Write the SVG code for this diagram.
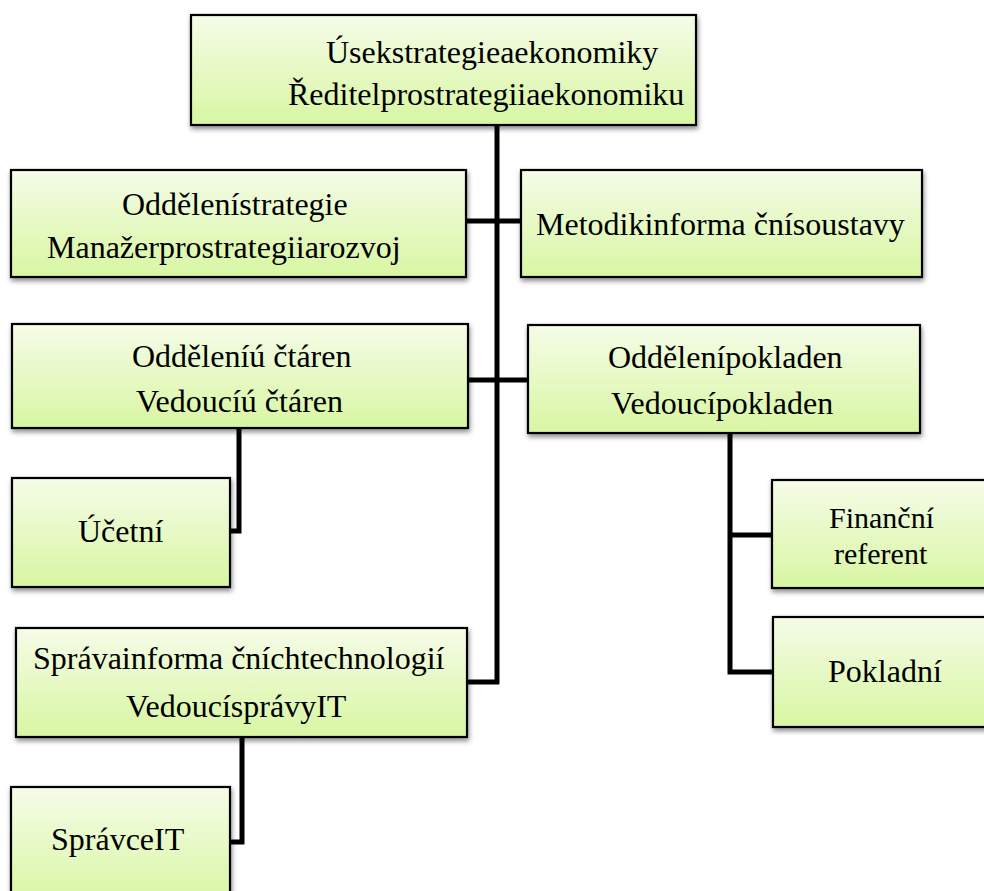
<svg xmlns="http://www.w3.org/2000/svg" width="984" height="891" viewBox="0 0 984 891">
  <defs>
    <linearGradient id="boxFill" x1="0" y1="0" x2="0" y2="1">
      <stop offset="0" stop-color="#f5fce8"/>
      <stop offset="1" stop-color="#d8f6a2"/>
    </linearGradient>
    <filter id="shadow" x="-10%" y="-10%" width="120%" height="130%">
      <feDropShadow dx="1" dy="3" stdDeviation="2.5" flood-color="#000" flood-opacity="0.45"/>
    </filter>
  </defs>
  <style>
    .box { fill: url(#boxFill); stroke: #000; stroke-width: 2.2; filter: url(#shadow); }
    .lbl { font-family: "Liberation Serif", "Times New Roman", serif; font-size: 32px; fill: #000; }
    .tight { font-size: 30px; }
    .link { fill: none; stroke: #000; stroke-width: 5; stroke-linejoin: miter; stroke-linecap: butt; }
  </style>
  <rect width="984" height="891" fill="#fff"/>

  <!-- connectors -->
  <g id="connectors">
    <path class="link" d="M497 125 V684"/>
    <path class="link" d="M466 221 H521"/>
    <path class="link" d="M468 380 H528"/>
    <path class="link" d="M467 682 H499"/>
    <path class="link" d="M239 428 V531 H230"/>
    <path class="link" d="M730 433 V672 H773"/>
    <path class="link" d="M730 535 H772"/>
    <path class="link" d="M242 737 V842 H230"/>
  </g>

  <g id="usek">
    <rect class="box" x="191" y="15" width="505" height="110"/>
    <text class="lbl" x="326" y="63">Úsekstrategieaekonomiky</text>
    <text class="lbl" x="288" y="105">Ředitelprostrategiiaekonomiku</text>
  </g>

  <g id="strategie">
    <rect class="box" x="11" y="170" width="455" height="107"/>
    <text class="lbl" x="122" y="215">Oddělenístrategie</text>
    <text class="lbl" x="47" y="258">Manažerprostrategiiarozvoj</text>
  </g>

  <g id="metodik">
    <rect class="box" x="521" y="170" width="401" height="107"/>
    <text class="lbl" x="536" y="235">Metodikinforma čnísoustavy</text>
  </g>

  <g id="uctarny">
    <rect class="box" x="12" y="324" width="456" height="104"/>
    <text class="lbl" x="132" y="367">Odděleníú čtáren</text>
    <text class="lbl" x="136" y="412">Vedoucíú čtáren</text>
  </g>

  <g id="pokladny">
    <rect class="box" x="528" y="325" width="392" height="108"/>
    <text class="lbl" x="608" y="368">Oddělenípokladen</text>
    <text class="lbl" x="611" y="414">Vedoucípokladen</text>
  </g>

  <g id="ucetni">
    <rect class="box" x="12" y="478" width="218" height="109"/>
    <text class="lbl" x="78" y="542">Účetní</text>
  </g>

  <g id="financni-referent">
    <rect class="box" x="772" y="480" width="230" height="108"/>
    <text class="lbl tight" x="829" y="528">Finanční</text>
    <text class="lbl tight" x="834" y="564">referent</text>
  </g>

  <g id="pokladni">
    <rect class="box" x="773" y="617" width="230" height="110"/>
    <text class="lbl" x="828" y="682">Pokladní</text>
  </g>

  <g id="sprava-it">
    <rect class="box" x="16" y="628" width="451" height="109"/>
    <text class="lbl" x="33" y="669">Správainforma čníchtechnologií</text>
    <text class="lbl" x="126" y="717">VedoucísprávyIT</text>
  </g>

  <g id="spravce-it">
    <rect class="box" x="11" y="787" width="219" height="120"/>
    <text class="lbl" x="51" y="850">SprávceIT</text>
  </g>
</svg>
